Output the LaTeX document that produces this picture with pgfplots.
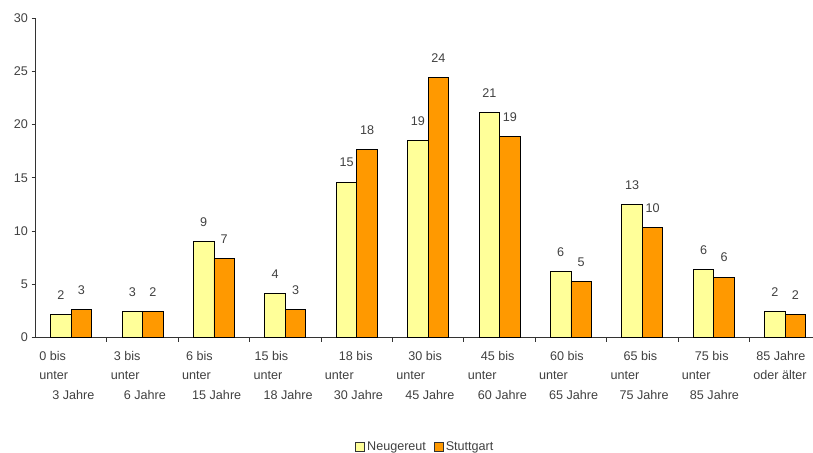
\documentclass[border=0pt]{standalone}
\usepackage{pgfplots}
\pgfplotsset{compat=1.18}
\usepackage{fontspec}
\setmainfont{Liberation Sans}
\definecolor{txt}{HTML}{404040}
\definecolor{yel}{HTML}{FFFF99}
\definecolor{org}{HTML}{FF9900}
\begin{document}
\begin{tikzpicture}
\path[use as bounding box] (0,0) rectangle (813bp,453bp);
\begin{axis}[
  at={(35.5bp,115.5bp)}, anchor=south west,
  scale only axis, width=777.5bp, height=319.5bp,
  xmin=-0.5, xmax=10.39, ymin=0, ymax=30,
  ybar=0pt, bar width=20.5bp,
  axis x line=bottom, axis y line=left,
  axis line style={-, draw=black!80, line width=0.8bp},
  ytick={0,5,...,30},
  xtick={0.5,1.5,...,9.5}, xticklabels={},
  extra x ticks={0,1,...,10},
  extra x tick labels={
    0 bis\\unter\\\hspace*{13bp}3 Jahre,
    \hspace*{3bp}3 bis\\unter\\\hspace*{13bp}6 Jahre,
    \hspace*{4bp}6 bis\\unter\\\hspace*{10bp}15 Jahre,
    \hspace*{1bp}15 bis\\unter\\\hspace*{10bp}18 Jahre,
    \hspace*{14bp}18 bis\\unter\\\hspace*{9bp}30 Jahre,
    \hspace*{12bp}30 bis\\unter\\\hspace*{9bp}45 Jahre,
    \hspace*{13bp}45 bis\\unter\\\hspace*{10bp}60 Jahre,
    \hspace*{11bp}60 bis\\unter\\\hspace*{10bp}65 Jahre,
    \hspace*{13bp}65 bis\\unter\\\hspace*{9bp}75 Jahre,
    \hspace*{13bp}75 bis\\unter\\\hspace*{8bp}85 Jahre,
    \hspace*{3bp}85 Jahre\\oder älter},
  extra x tick style={major tick length=0pt,
    xticklabel style={anchor=north west, xshift=-32bp, align=left, inner sep=0pt, yshift=-13.5bp}},
  tick align=outside, major tick length=4bp,
  tick style={draw=black!80, line width=0.8bp},
  tick label style={text=txt, font=\fontsize{12.6bp}{19.5bp}\selectfont},
  /pgf/number format/assume math mode=true,
  nodes near coords, point meta=explicit symbolic,
  every node near coord/.append style={anchor=center, yshift=19.5bp, text=txt,
     font=\fontsize{12.6bp}{14bp}\selectfont},
  legend columns=2,
  legend style={at={(0.4105,-0.342)}, anchor=west, draw=none, fill=none,
    font=\fontsize{12.6bp}{14bp}\selectfont, text=txt, inner sep=0pt,
    nodes={inner sep=1.5bp},
    /tikz/every odd column/.append style={column sep=1bp},
    /tikz/every even column/.append style={column sep=6bp}},
  legend image code/.code={\draw[#1, draw=black!80, line width=0.8bp] (0bp,-4.5bp) rectangle (9bp,4.5bp);},
]
\addplot[fill=yel, draw=black, line width=0.8bp] table[meta=l] {
x y l
0 2.18 2
1 2.46 3
2 9.0 9
3 4.15 4
4 14.6 15
5 18.48 19
6 21.15 21
7 6.2 6
8 12.5 13
9 6.4 6
10 2.46 2
};
\addplot[fill=org, draw=black, line width=0.8bp] table[meta=l] {
x y l
0 2.61 3
1 2.46 2
2 7.43 7
3 2.65 3
4 17.67 18
5 24.43 24
6 18.9 19
7 5.28 5
8 10.35 10
9 5.68 6
10 2.18 2
};
\legend{Neugereut, Stuttgart}
\end{axis}
\end{tikzpicture}
\end{document}
